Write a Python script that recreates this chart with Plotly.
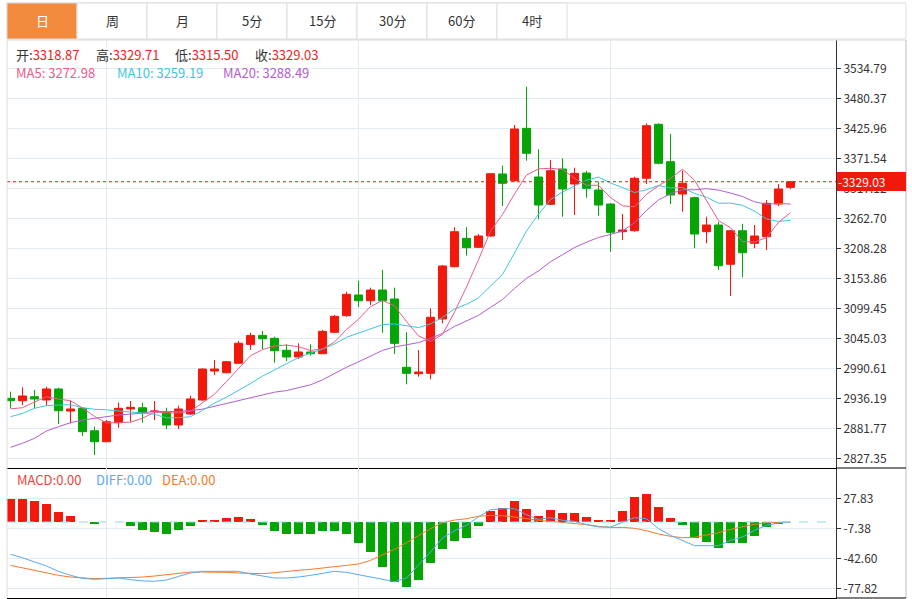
import plotly.graph_objects as go

W, H = 912, 599

tabs = ["日", "周", "月", "5分", "15分", "30分", "60分", "4时"]

opens = [2936.2, 2931.8, 2939.1, 2933.1, 2953.1, 2913.1, 2918.0, 2877.4, 2857.4, 2891.9,
         2916.8, 2919.1, 2911.9, 2911.9, 2887.8, 2907.7, 2933.1, 2985.7, 2982.6, 2999.7,
         3034.0, 3050.3, 3045.0, 3023.3, 3011.1, 3020.2, 3017.1, 3055.9, 3086.0, 3123.6,
         3113.2, 3132.6, 3116.3, 2992.4, 2980.8, 2981.5, 3080.0, 3174.9, 3226.4, 3210.1,
         3230.6, 3343.1, 3330.9, 3425.9, 3337.6, 3288.1, 3352.1, 3324.9, 3344.8, 3314.0,
         3288.6, 3238.4, 3240.2, 3335.3, 3433.2, 3365.4, 3306.8, 3300.1, 3238.4, 3250.5,
         3179.3, 3240.2, 3217.3, 3229.3, 3288.6, 3318.87]
highs = [2948.2, 2956.1, 2951.2, 2957.2, 2955.4, 2931.3, 2919.8, 2884.7, 2896.8, 2928.2,
         2931.3, 2928.2, 2931.3, 2919.1, 2922.8, 2940.9, 2990.6, 3005.7, 3003.8, 3040.1,
         3055.1, 3058.3, 3047.9, 3034.1, 3036.0, 3034.1, 3060.1, 3087.3, 3129.6, 3149.5,
         3136.8, 3168.9, 3136.8, 3055.9, 3023.8, 3099.4, 3178.0, 3246.4, 3246.4, 3234.2,
         3344.3, 3358.1, 3431.9, 3501.4, 3387.9, 3368.5, 3371.5, 3354.5, 3349.0, 3329.1,
         3290.4, 3270.5, 3338.2, 3435.0, 3435.0, 3415.7, 3349.0, 3301.9, 3265.6, 3256.5,
         3241.5, 3252.8, 3250.5, 3295.9, 3324.9, 3329.71]
lows = [2918.0, 2924.0, 2918.0, 2922.8, 2889.6, 2890.8, 2867.8, 2833.3, 2857.4, 2882.9,
        2893.7, 2891.9, 2896.8, 2880.4, 2880.4, 2905.9, 2931.8, 2978.4, 2981.5, 2998.4,
        3023.8, 3025.6, 3000.8, 3003.8, 3007.5, 3013.5, 3016.5, 3054.6, 3084.2, 3101.3,
        3105.4, 3055.2, 3016.5, 2961.6, 2975.4, 2970.6, 3072.2, 3173.8, 3194.9, 3209.4,
        3229.3, 3285.0, 3329.1, 3367.2, 3260.9, 3286.8, 3265.6, 3268.7, 3300.1, 3267.4,
        3202.1, 3223.3, 3238.4, 3324.9, 3360.6, 3288.6, 3274.7, 3208.3, 3217.3, 3168.9,
        3121.8, 3155.7, 3208.3, 3205.2, 3285.0, 3315.50]
closes = [2931.8, 2940.4, 2934.9, 2953.1, 2913.7, 2916.8, 2875.6, 2857.4, 2893.7, 2918.0,
          2919.8, 2910.8, 2913.0, 2887.8, 2916.8, 2934.9, 2989.3, 2989.3, 3002.6, 3036.0,
          3050.3, 3044.2, 3022.5, 3011.1, 3020.2, 3017.1, 3057.7, 3084.9, 3124.8, 3113.2,
          3132.6, 3113.2, 3035.9, 2981.5, 2983.9, 3083.1, 3176.2, 3238.4, 3209.4, 3230.6,
          3343.6, 3326.2, 3424.7, 3380.6, 3286.8, 3349.0, 3315.8, 3344.3, 3317.1, 3286.8,
          3237.3, 3241.5, 3335.3, 3430.7, 3362.5, 3305.0, 3326.2, 3234.2, 3250.5, 3176.7,
          3240.2, 3200.3, 3230.6, 3289.9, 3315.8, 3329.03]

ma5 = [2917.1, 2919.1, 2929.5, 2939.1, 2934.8, 2931.8, 2918.8, 2903.3, 2891.4, 2892.3,
       2892.9, 2899.9, 2911.1, 2909.9, 2909.6, 2912.7, 2928.4, 2943.6, 2966.6, 2990.4,
       3013.5, 3024.5, 3031.1, 3032.8, 3029.7, 3023.0, 3025.7, 3038.2, 3060.9, 3079.5,
       3102.6, 3113.7, 3103.9, 3075.3, 3049.4, 3039.5, 3052.1, 3092.6, 3138.2, 3187.5,
       3239.6, 3269.6, 3306.9, 3341.1, 3352.4, 3353.5, 3351.4, 3335.3, 3322.6, 3322.6,
       3300.3, 3285.4, 3283.6, 3306.3, 3321.5, 3335.0, 3351.9, 3331.7, 3295.7, 3258.5,
       3245.6, 3220.4, 3219.7, 3227.5, 3255.4, 3272.98]
ma10 = [2902.8, 2908.9, 2918.1, 2922.8, 2924.0, 2924.5, 2919.0, 2916.4, 2915.3, 2913.6,
        2912.4, 2909.4, 2907.2, 2900.7, 2901.0, 2902.8, 2914.2, 2927.4, 2938.3, 2950.0,
        2963.1, 2976.5, 2987.4, 2999.7, 3010.1, 3018.3, 3025.1, 3034.7, 3046.9, 3054.6,
        3062.8, 3069.7, 3071.1, 3068.1, 3064.5, 3071.1, 3082.9, 3098.3, 3106.8, 3118.5,
        3139.6, 3160.9, 3199.8, 3239.7, 3270.0, 3296.6, 3310.5, 3321.1, 3331.9, 3337.5,
        3326.9, 3318.4, 3309.5, 3314.5, 3322.1, 3317.7, 3318.7, 3307.7, 3301.0, 3290.0,
        3290.3, 3286.2, 3275.7, 3261.6, 3257.0, 3259.19]
ma20 = [2847.3, 2854.6, 2863.6, 2876.9, 2884.7, 2891.9, 2896.8, 2899.9, 2902.8, 2905.9,
        2907.6, 2909.2, 2912.7, 2911.8, 2912.5, 2913.7, 2916.6, 2921.9, 2926.8, 2931.8,
        2937.8, 2943.0, 2947.3, 2950.2, 2955.6, 2960.6, 2969.7, 2981.1, 2992.6, 3002.3,
        3013.0, 3023.1, 3029.3, 3033.9, 3037.3, 3044.7, 3054.0, 3066.5, 3076.9, 3086.6,
        3101.2, 3115.3, 3135.5, 3153.9, 3167.3, 3183.9, 3196.7, 3209.7, 3219.4, 3228.0,
        3233.3, 3239.7, 3254.7, 3277.1, 3296.1, 3307.2, 3314.6, 3314.4, 3316.5, 3313.8,
        3308.6, 3302.3, 3292.6, 3288.1, 3289.6, 3288.49]

macd_hist = [27.0, 26.6, 24.3, 20.7, 11.7, 6.7, -0.5, -2.7, -0.3, -0.5,
             -4.7, -9.0, -11.7, -14.1, -9.0, -4.3, 2.3, 2.3, 4.3, 5.5,
             3.1, -3.5, -10.2, -14.1, -14.5, -14.5, -11.0, -11.0, -14.5, -24.6,
             -35.6, -52.8, -70.4, -76.7, -67.7, -47.7, -31.3, -22.3, -18.4, -5.1,
             12.9, 16.4, 24.3, 14.9, 7.4, 13.7, 10.2, 10.6, 5.5, 2.0,
             2.0, 12.9, 29.0, 32.5, 17.2, 4.7, -3.9, -18.4, -23.5, -30.5,
             -24.3, -25.0, -16.4, -6.3, -2.0, 0.0]
diff = [-37.9, -41.9, -46.9, -51.6, -57.9, -62.6, -66.1, -67.3, -66.5, -65.7,
        -67.7, -69.2, -69.6, -68.1, -63.8, -59.9, -57.9, -57.9, -57.1, -57.9,
        -61.0, -63.8, -65.7, -65.7, -64.6, -62.6, -59.9, -57.9, -59.1, -61.8,
        -64.2, -66.9, -70.0, -65.7, -50.9, -35.2, -18.8, -10.2, -3.9, 5.9,
        14.5, 15.6, 15.6, 8.6, 3.1, 5.1, 2.0, 0.8, -3.1, -5.9,
        -5.9, -0.8, 5.1, 3.9, -7.8, -15.6, -21.5, -27.8, -27.8, -27.8,
        -21.5, -17.6, -9.8, -3.9, -1.2, 0.0]
dea = [-50.9, -54.0, -56.7, -59.5, -62.6, -64.6, -65.7, -66.5, -66.1, -65.7,
       -65.3, -64.6, -63.4, -61.8, -59.9, -58.7, -58.7, -58.7, -59.1, -59.9,
       -60.6, -60.6, -59.5, -57.9, -56.7, -55.6, -54.0, -52.8, -51.6, -49.3,
       -45.0, -38.3, -32.1, -24.3, -15.6, -7.8, -0.8, 2.3, 3.9, 6.7,
       7.8, 7.4, 5.9, 3.9, 2.0, 0.8, -0.4, -1.6, -3.1, -5.1,
       -6.3, -6.3, -7.4, -10.2, -14.1, -16.8, -18.4, -18.0, -15.6, -12.5,
       -8.6, -5.5, -2.7, -0.8, 0.0, 0.0]

price_tick_labels = ["3534.79", "3480.37", "3425.96", "3371.54", "3317.12", "3262.70", "3208.28",
                     "3153.86", "3099.45", "3045.03", "2990.61", "2936.19", "2881.77", "2827.35"]
macd_tick_labels = ["27.83", "-7.38", "-42.60", "-77.82"]
month_breaks = [8, 29, 50]

RED = "#f2190c"
GREEN = "#06a506"
GRID = "#e3ebf2"
C_MA5 = "#ee5b8a"
C_MA10 = "#3fc6dc"
C_MA20 = "#b25ecd"
C_DIFF = "#5aa9ef"
C_DEA = "#f57b2b"
TXT = "#333333"
FONT = "Noto Sans CJK SC, Noto Sans, sans-serif"
LEG_SIZE = 13

idx = list(range(len(closes)))


def px(x):
    return x / W


def py(y):
    return 1 - y / H


fig = go.Figure()
fig.add_trace(go.Candlestick(
    x=idx, open=opens, high=highs, low=lows, close=closes,
    increasing=dict(line=dict(color=RED, width=1), fillcolor=RED),
    decreasing=dict(line=dict(color=GREEN, width=1), fillcolor=GREEN),
    whiskerwidth=0, hoverinfo="skip", showlegend=False, xaxis="x", yaxis="y"))
for vals, col in [(ma20, C_MA20), (ma10, C_MA10), (ma5, C_MA5)]:
    fig.add_trace(go.Scatter(x=idx, y=vals, mode="lines", line=dict(color=col, width=1),
                             hoverinfo="skip", showlegend=False, xaxis="x", yaxis="y"))

fig.add_trace(go.Bar(x=idx, y=macd_hist, width=0.72,
                     marker=dict(color=[RED if v > 0 else GREEN for v in macd_hist], line=dict(width=0)),
                     hoverinfo="skip", showlegend=False, xaxis="x2", yaxis="y2"))
fig.add_trace(go.Scatter(x=idx, y=dea, mode="lines", line=dict(color=C_DEA, width=1),
                         hoverinfo="skip", showlegend=False, xaxis="x2", yaxis="y2"))
fig.add_trace(go.Scatter(x=idx, y=diff, mode="lines", line=dict(color=C_DIFF, width=1),
                         hoverinfo="skip", showlegend=False, xaxis="x2", yaxis="y2"))

XL, XR, XOUT = 7, 836, 906
TOP, MID, BOT = 40, 468, 598

shapes = []
shapes.append(dict(type="line", xref="paper", yref="y", x0=px(XL), x1=px(XR),
                   y0=closes[-1], y1=closes[-1], line=dict(color=RED, width=1, dash="dot")))
shapes.append(dict(type="line", xref="paper", yref="y2", x0=px(XL), x1=px(XR - 3),
                   y0=0, y1=0, line=dict(color="#8fd4f2", width=1, dash="dash")))
shapes.append(dict(type="line", xref="paper", yref="paper", x0=px(XL), x1=px(XOUT),
                   y0=py(TOP), y1=py(TOP), line=dict(color="#dcdcdc", width=1)))
shapes.append(dict(type="line", xref="paper", yref="paper", x0=px(XL), x1=px(XL),
                   y0=py(TOP), y1=py(BOT), line=dict(color="#dcdcdc", width=1)))
shapes.append(dict(type="line", xref="paper", yref="paper", x0=px(XOUT), x1=px(XOUT),
                   y0=py(TOP), y1=py(BOT), line=dict(color="#bcbcbc", width=1)))
for yy in (MID, BOT):
    shapes.append(dict(type="line", xref="paper", yref="paper", x0=px(XR), x1=px(XOUT),
                       y0=py(yy), y1=py(yy), line=dict(color="#000000", width=1)))

TAB_L, TAB_W, TAB_T, TAB_B = 7, 70, 3, 39
shapes.append(dict(type="rect", xref="paper", yref="paper", x0=px(TAB_L), x1=px(XOUT),
                   y0=py(TAB_B), y1=py(TAB_T), line=dict(color="#dddddd", width=1), fillcolor="white"))
annotations = []
for i, t in enumerate(tabs):
    x0 = TAB_L + TAB_W * i
    x1 = x0 + TAB_W
    active = i == 0
    shapes.append(dict(type="rect", xref="paper", yref="paper", x0=px(x0), x1=px(x1),
                       y0=py(TAB_B), y1=py(TAB_T), line=dict(color="#dddddd", width=1),
                       fillcolor="#f38b3f" if active else "white"))
    annotations.append(dict(text=t, xref="paper", yref="paper", x=px((x0 + x1) / 2),
                            y=py((TAB_T + TAB_B) / 2), showarrow=False, xanchor="center", yanchor="middle",
                            font=dict(family=FONT, size=13, color="white" if active else TXT)))


def label(x, y, text, color=TXT, size=LEG_SIZE):
    annotations.append(dict(text=text, xref="paper", yref="paper", x=px(x), y=py(y), showarrow=False,
                            xanchor="left", yanchor="middle", borderpad=0,
                            font=dict(family=FONT, size=size, color=color)))


VRED = "#f0231b"
label(15, 55, "开:<span style='color:%s'>%.2f</span>" % (VRED, opens[-1]))
label(95, 55, "高:<span style='color:%s'>%.2f</span>" % (VRED, highs[-1]))
label(174, 55, "低:<span style='color:%s'>%.2f</span>" % (VRED, lows[-1]))
label(254, 55, "收:<span style='color:%s'>%.2f</span>" % (VRED, closes[-1]))
label(15, 73, "MA5: %.2f" % ma5[-1], C_MA5)
label(116, 73, "MA10: %.2f" % ma10[-1], C_MA10)
label(222, 73, "MA20: %.2f" % ma20[-1], C_MA20)
label(16, 479, "MACD:%.2f" % macd_hist[-1], "#f0443a")
label(95, 479, "DIFF:%.2f" % diff[-1], C_DIFF)
label(161, 479, "DEA:%.2f" % dea[-1], C_DEA)

annotations.append(dict(text="-%.2f" % closes[-1], xref="paper", yref="y", x=px(XR + 1), y=closes[-1],
                        xanchor="left", yanchor="middle", showarrow=False, align="left",
                        width=67, height=17, borderpad=1, borderwidth=0, bgcolor=RED,
                        font=dict(family=FONT, size=12, color="white")))

axis_common = dict(showgrid=True, gridcolor=GRID, gridwidth=1, zeroline=False)

fig.update_layout(
    width=W, height=H, margin=dict(l=0, r=0, t=0, b=0),
    paper_bgcolor="white", plot_bgcolor="white",
    boxgap=0.33, boxgroupgap=0, bargap=0,
    font=dict(family=FONT, size=12, color=TXT),
    showlegend=False,
    xaxis=dict(domain=[px(XL), px(XR)], range=[(XL - 10.5) / 12, (XR - 10.5) / 12], anchor="y",
               tickvals=month_breaks, showticklabels=False, ticks="", showline=True,
               linecolor="#000000", linewidth=1, rangeslider=dict(visible=False), **axis_common),
    xaxis2=dict(domain=[px(XL), px(XR)], matches="x", anchor="y2",
                tickvals=month_breaks, showticklabels=False, ticks="", showline=True,
                linecolor="#000000", linewidth=1, **axis_common),
    yaxis=dict(domain=[py(MID), py(TOP)], range=[2809.75, 3586.15], side="right", anchor="x",
               tickvals=[float(s) for s in price_tick_labels], ticktext=price_tick_labels,
               ticks="outside", ticklen=4, tickcolor=TXT, showline=True, linecolor=TXT, linewidth=1,
               tickfont=dict(family=FONT, size=12, color=TXT), **axis_common),
    yaxis2=dict(domain=[py(BOT), py(MID)], range=[-89.2, 63.4], side="right", anchor="x2",
                tickvals=[float(s) for s in macd_tick_labels], ticktext=macd_tick_labels,
                ticks="outside", ticklen=4, tickcolor=TXT, showline=True, linecolor=TXT, linewidth=1,
                tickfont=dict(family=FONT, size=12, color=TXT), **axis_common),
    shapes=shapes, annotations=annotations,
)

fig.write_html("out.html", config={"displayModeBar": False, "staticPlot": True},
               post_script="document.body.style.margin='0';document.body.style.overflow='hidden';")
